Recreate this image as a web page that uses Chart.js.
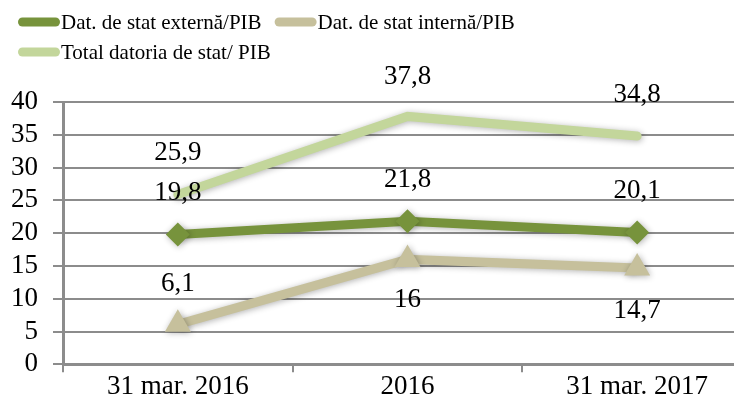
<!DOCTYPE html>
<html>
<head>
<meta charset="utf-8">
<script src="https://cdn.jsdelivr.net/npm/chart.js@4"></script>
<style>
  html, body { margin: 0; padding: 0; background: #fff; overflow: hidden; }
  canvas { display: block; }
</style>
</head>
<body>
<canvas id="datoriaChart" width="752" height="408"></canvas>
<script>
// Datele graficului
const categorii = ['31 mar. 2016', '2016', '31 mar. 2017'];
const externaPIB = [19.8, 21.8, 20.1];
const internaPIB = [6.1, 16, 14.7];
const totalPIB = [25.9, 37.8, 34.8];
const yTicks = [0, 5, 10, 15, 20, 25, 30, 35, 40];

const SERIF = "'Liberation Serif', 'DejaVu Serif', serif";
const GRID = '#8c8c8c';

// etichete de valori deasupra/dedesubtul punctelor
const valueLabels = {
    id: 'valueLabels',
    afterDatasetsDraw(chart) {
        const ctx = chart.ctx;
        ctx.save();
        ctx.font = '27px ' + SERIF;
        ctx.fillStyle = '#000';
        ctx.textAlign = 'center';
        ctx.textBaseline = 'middle';
        chart.data.datasets.forEach((ds, i) => {
            chart.getDatasetMeta(i).data.forEach((el, j) => {
                const txt = String(ds.data[j]).replace('.', ',');
                ctx.fillText(txt, el.x, el.y + ds.labelOffsets[j]);
            });
        });
        ctx.restore();
    }
};

// umbra discreta pentru linii si markere
const softShadow = {
    id: 'softShadow',
    beforeDatasetsDraw(chart) {
        const ctx = chart.ctx;
        ctx.save();
        ctx.shadowColor = 'rgba(0,0,0,0.3)';
        ctx.shadowBlur = 6;
        ctx.shadowOffsetX = 1;
        ctx.shadowOffsetY = 1;
    },
    afterDatasetsDraw(chart) {
        chart.ctx.restore();
    }
};

// legenda desenata manual (linie groasa + text)
const lineLegend = {
    id: 'lineLegend',
    afterDraw(chart) {
        const ctx = chart.ctx;
        const boxW = 42, boxH = 9, gap = 13, rowH = 30;
        let x = 18, y = 22;
        ctx.save();
        ctx.font = '21px ' + SERIF;
        ctx.textBaseline = 'middle';
        ctx.textAlign = 'left';
        chart.data.datasets.forEach(ds => {
            const tw = ctx.measureText(ds.label).width;
            if (x + boxW + 1 + tw > 734) {
                x = 18;
                y += rowH;
            }
            ctx.fillStyle = ds.borderColor;
            ctx.beginPath();
            ctx.roundRect(x, y - boxH / 2, boxW, boxH, boxH / 2);
            ctx.fill();
            ctx.fillStyle = '#000';
            ctx.fillText(ds.label, x + boxW + 1, y + 1);
            x += boxW + 1 + tw + gap;
        });
        ctx.restore();
    }
};

const ctx = document.getElementById('datoriaChart').getContext('2d');
const datoriaChart = new Chart(ctx, {
    type: 'line',
    data: {
        labels: categorii,
        datasets: [{
            label: 'Dat. de stat externă/PIB',
            data: externaPIB,
            borderColor: '#77933c',
            backgroundColor: '#77933c',
            borderWidth: 9,
            pointStyle: 'rectRot',
            pointRadius: 12,
            pointBorderWidth: 0,
            labelOffsets: [-42, -41, -42]
        }, {
            label: 'Dat. de stat internă/PIB',
            data: internaPIB,
            borderColor: '#c6c09c',
            backgroundColor: '#c6c09c',
            borderWidth: 9,
            pointStyle: 'triangle',
            pointRadius: 15,
            pointBorderWidth: 0,
            labelOffsets: [-40, 41, 43]
        }, {
            label: 'Total datoria de stat/ PIB',
            data: totalPIB,
            borderColor: '#c3d69b',
            backgroundColor: '#c3d69b',
            borderWidth: 9,
            borderCapStyle: 'round',
            pointRadius: 0,
            labelOffsets: [-42, -40, -41]
        }]
    },
    options: {
        responsive: false,
        animation: false,
        layout: {
            autoPadding: false,
            padding: { left: 10, right: 0, top: 102, bottom: 6 }
        },
        plugins: {
            tooltip: { enabled: false },
            legend: { display: false }
        },
        scales: {
            x: {
                offset: true,
                afterFit(scale) {
                    scale.paddingLeft = 0;
                    scale.paddingRight = 0;
                },
                grid: {
                    offset: true,
                    drawOnChartArea: false,
                    tickLength: 8,
                    color: GRID,
                    lineWidth: 2
                },
                border: { color: GRID, width: 3 },
                ticks: {
                    font: { family: SERIF, size: 27, lineHeight: 1.1 },
                    color: '#000',
                    padding: 0,
                    autoSkip: false,
                    maxRotation: 0
                }
            },
            y: {
                min: 0,
                max: 40,
                afterBuildTicks(scale) {
                    scale.ticks = yTicks.map(v => ({ value: v }));
                },
                afterFit(scale) {
                    scale.width = 53;
                    scale.paddingTop = 0;
                    scale.paddingBottom = 0;
                },
                grid: {
                    color: GRID,
                    lineWidth: 2,
                    tickLength: 10
                },
                border: { color: GRID, width: 3 },
                ticks: {
                    font: { family: SERIF, size: 27 },
                    color: '#000',
                    padding: 15,
                    autoSkip: false
                }
            }
        }
    },
    plugins: [softShadow, valueLabels, lineLegend]
});
</script>
</body>
</html>
